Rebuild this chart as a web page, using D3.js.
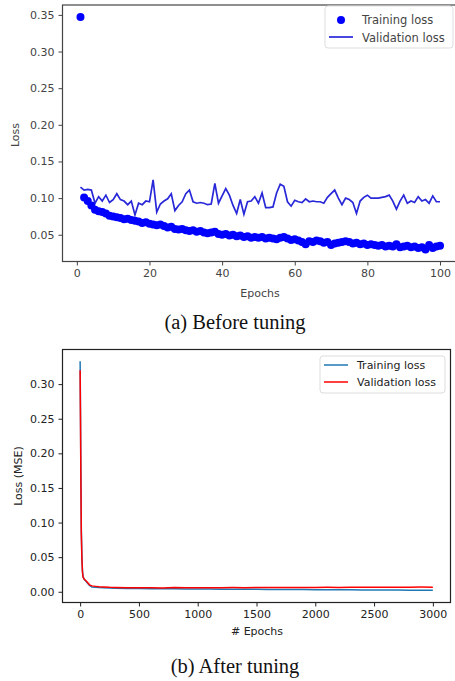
<!DOCTYPE html>
<html>
<head>
<meta charset="utf-8">
<script src="https://cdn.jsdelivr.net/npm/d3@7/dist/d3.min.js"></script>
<style>
  body { margin: 0; background: #fff; }
  svg { display: block; }
  .tick text { font-family: "DejaVu Sans", sans-serif; }
</style>
</head>
<body>
<div id="chart-area"></div>
<script>
// (a) before tuning: epochs 1..100
var trainA = [
  0.347, 0.101, 0.096, 0.090, 0.084, 0.082, 0.081, 0.079, 0.076, 0.075,
  0.074, 0.073, 0.071, 0.072, 0.070, 0.069, 0.068, 0.066, 0.067, 0.065,
  0.064, 0.063, 0.064, 0.062, 0.060, 0.061, 0.058, 0.057, 0.058, 0.056,
  0.055, 0.056, 0.054, 0.055, 0.053, 0.052, 0.053, 0.054, 0.051, 0.050,
  0.051, 0.049, 0.050, 0.048, 0.049, 0.047, 0.048, 0.046, 0.047, 0.046,
  0.047, 0.045, 0.046, 0.045, 0.044, 0.046, 0.047, 0.045, 0.043, 0.044,
  0.042, 0.040, 0.037, 0.041, 0.040, 0.042, 0.041, 0.039, 0.040, 0.036,
  0.038, 0.039, 0.040, 0.041, 0.040, 0.038, 0.039, 0.037, 0.038, 0.036,
  0.037, 0.036, 0.035, 0.036, 0.034, 0.035, 0.034, 0.037, 0.033, 0.034,
  0.035, 0.033, 0.034, 0.032, 0.033, 0.030, 0.036, 0.032, 0.034, 0.035
];
var valA = [
  0.115, 0.111, 0.112, 0.111, 0.093, 0.102, 0.096, 0.104, 0.094, 0.098,
  0.106, 0.098, 0.096, 0.091, 0.096, 0.077, 0.093, 0.091, 0.096, 0.095,
  0.125, 0.081, 0.092, 0.096, 0.099, 0.106, 0.083, 0.090, 0.095, 0.106,
  0.111, 0.095, 0.093, 0.094, 0.093, 0.091, 0.092, 0.120, 0.093, 0.103,
  0.113, 0.104, 0.090, 0.079, 0.098, 0.078, 0.095, 0.096, 0.102, 0.093,
  0.107, 0.087, 0.087, 0.088, 0.107, 0.119, 0.116, 0.095, 0.089, 0.097,
  0.095, 0.094, 0.099, 0.095, 0.096, 0.095, 0.095, 0.093, 0.101, 0.106,
  0.111, 0.100, 0.091, 0.100, 0.098, 0.094, 0.079, 0.096, 0.101, 0.104,
  0.100, 0.100, 0.100, 0.101, 0.102, 0.104, 0.096, 0.085, 0.096, 0.104,
  0.093, 0.096, 0.094, 0.102, 0.096, 0.098, 0.093, 0.103, 0.095, 0.095
];
var ticksAX = [0, 20, 40, 60, 80, 100];
var ticksAY = [0.05, 0.10, 0.15, 0.20, 0.25, 0.30, 0.35];

// (b) after tuning: sampled epochs and losses
var epochsB = [0, 3, 6, 10, 15, 20, 25, 35, 50, 65, 80, 100, 130, 160, 200, 250, 300, 400, 500, 600,
  700, 800, 900, 1000, 1100, 1200, 1300, 1400, 1500, 1600, 1700, 1800, 1900, 2000, 2100, 2200, 2300,
  2400, 2500, 2600, 2700, 2800, 2900, 3000];
var trainB = [0.333, 0.26, 0.18, 0.09, 0.05, 0.030, 0.022, 0.018, 0.015, 0.012, 0.009, 0.007, 0.0064, 0.006, 0.0057, 0.0054, 0.0052, 0.0049, 0.0047, 0.0045,
  0.0044, 0.0043, 0.0041, 0.0040, 0.0039, 0.0038, 0.0037, 0.0036, 0.0035, 0.0034, 0.0033, 0.0033, 0.0032, 0.0031, 0.0030, 0.0029, 0.0028,
  0.0027, 0.0026, 0.0025, 0.0024, 0.0023, 0.0022, 0.0021];
var valB = [0.320, 0.25, 0.17, 0.085, 0.048, 0.028, 0.021, 0.018, 0.016, 0.013, 0.010, 0.0085, 0.0078, 0.0072, 0.0068, 0.0064, 0.0062, 0.0059, 0.0057, 0.0058,
  0.0056, 0.0061, 0.0057, 0.0058, 0.0059, 0.0058, 0.0060, 0.0059, 0.0061, 0.0060, 0.0062, 0.0061, 0.0063, 0.0062, 0.0064, 0.0063, 0.0065,
  0.0064, 0.0066, 0.0065, 0.0067, 0.0066, 0.0068, 0.0067];
var ticksBX = [0, 500, 1000, 1500, 2000, 2500, 3000];
var ticksBY = [0.00, 0.05, 0.10, 0.15, 0.20, 0.25, 0.30];

var width = 455;
var height = 681;

var svg = d3.select("#chart-area")
  .append("svg")
  .attr("width", width)
  .attr("height", height);

function drawAxes(g, x, y, tx, ty, xfmt, color) {
  var xAxis = d3.axisBottom(x).tickValues(tx).tickFormat(xfmt).tickSize(4).tickPadding(4).tickSizeOuter(0);
  var yAxis = d3.axisLeft(y).tickValues(ty).tickFormat(d3.format(".2f")).tickSize(4).tickPadding(4).tickSizeOuter(0);

  var xg = g.append("g")
    .attr("transform", "translate(0," + y.range()[0] + ")")
    .call(xAxis);
  var yg = g.append("g")
    .attr("transform", "translate(" + x.range()[0] + ",0)")
    .call(yAxis);

  [xg, yg].forEach(function(a) {
    a.select(".domain").remove();
    a.selectAll(".tick line").attr("stroke", color);
    a.selectAll(".tick text").attr("fill", color).style("font-size", "11px");
  });

  g.append("rect")
    .attr("x", x.range()[0])
    .attr("y", y.range()[1])
    .attr("width", x.range()[1] - x.range()[0])
    .attr("height", y.range()[0] - y.range()[1])
    .attr("fill", "none")
    .attr("stroke", color)
    .attr("stroke-width", 1.2);
}

// ----- chart (a)
var xA = d3.scaleLinear().domain([-3.95, 104.95]).range([62.5, 458]);
var yA = d3.scaleLinear().domain([0.0135, 0.3635]).range([261.5, 5]);
var gA = svg.append("g");

var epochsA = d3.range(1, trainA.length + 1);

gA.append("path")
  .datum(valA)
  .attr("fill", "none")
  .attr("stroke", "#2828d8")
  .attr("stroke-width", 1.7)
  .attr("d", d3.line().x(function(d, i) { return xA(epochsA[i]); }).y(function(d) { return yA(d); }));

gA.selectAll(".pt")
  .data(trainA)
  .enter()
  .append("circle")
  .attr("class", "pt")
  .attr("cx", function(d, i) { return xA(epochsA[i]); })
  .attr("cy", function(d) { return yA(d); })
  .attr("r", 4)
  .attr("fill", "#0000ff");

drawAxes(gA, xA, yA, ticksAX, ticksAY, d3.format("d"), "#444");

// legend (a)
var legA = gA.append("g");
legA.append("rect").attr("x", 325).attr("y", 6).attr("width", 128).attr("height", 42)
  .attr("rx", 3).attr("fill", "#fff").attr("stroke", "#ddd");
legA.append("circle").attr("cx", 341).attr("cy", 20).attr("r", 4).attr("fill", "#0000ff");
legA.append("line").attr("x1", 329).attr("x2", 353).attr("y1", 37).attr("y2", 37)
  .attr("stroke", "#2828d8").attr("stroke-width", 1.7);
legA.append("text").attr("x", 362).attr("y", 24).text("Training loss")
  .attr("font-family", "DejaVu Sans").attr("font-size", "11.5px").attr("fill", "#444");
legA.append("text").attr("x", 362).attr("y", 42).text("Validation loss")
  .attr("font-family", "DejaVu Sans").attr("font-size", "11.5px").attr("fill", "#444");

gA.append("text")
  .attr("transform", "translate(19,135) rotate(-90)")
  .attr("text-anchor", "middle")
  .attr("font-family", "DejaVu Sans").attr("font-size", "11px").attr("fill", "#444")
  .text("Loss");
gA.append("text")
  .attr("x", 260).attr("y", 297)
  .attr("text-anchor", "middle")
  .attr("font-family", "DejaVu Sans").attr("font-size", "11px").attr("fill", "#444")
  .text("Epochs");

svg.append("text")
  .attr("x", 235).attr("y", 329)
  .attr("text-anchor", "middle")
  .attr("font-family", "Liberation Serif, serif").attr("font-size", "20.5px").attr("fill", "#111")
  .text("(a) Before tuning");

// ----- chart (b)
var xB = d3.scaleLinear().domain([-150, 3150]).range([62.5, 450.5]);
var yB = d3.scaleLinear().domain([-0.0155, 0.35]).range([602.5, 349.5]);
var gB = svg.append("g");

var lineB = d3.line().x(function(d, i) { return xB(epochsB[i]); }).y(function(d) { return yB(d); });

gB.append("path")
  .datum(trainB)
  .attr("fill", "none")
  .attr("stroke", "#1f77b4")
  .attr("stroke-width", 1.5)
  .attr("d", lineB);

gB.append("path")
  .datum(valB)
  .attr("fill", "none")
  .attr("stroke", "#ff0000")
  .attr("stroke-width", 1.5)
  .attr("d", lineB);

drawAxes(gB, xB, yB, ticksBX, ticksBY, d3.format("d"), "#222");

var legB = gB.append("g");
legB.append("rect").attr("x", 320).attr("y", 356).attr("width", 125).attr("height", 37)
  .attr("rx", 3).attr("fill", "#fff").attr("stroke", "#ddd");
legB.append("line").attr("x1", 324).attr("x2", 348).attr("y1", 365).attr("y2", 365)
  .attr("stroke", "#1f77b4").attr("stroke-width", 1.5);
legB.append("line").attr("x1", 324).attr("x2", 348).attr("y1", 382).attr("y2", 382)
  .attr("stroke", "#ff0000").attr("stroke-width", 1.5);
legB.append("text").attr("x", 357).attr("y", 369).text("Training loss")
  .attr("font-family", "DejaVu Sans").attr("font-size", "11px").attr("fill", "#222");
legB.append("text").attr("x", 357).attr("y", 386).text("Validation loss")
  .attr("font-family", "DejaVu Sans").attr("font-size", "11px").attr("fill", "#222");

gB.append("text")
  .attr("transform", "translate(22,476) rotate(-90)")
  .attr("text-anchor", "middle")
  .attr("font-family", "DejaVu Sans").attr("font-size", "11px").attr("fill", "#222")
  .text("Loss (MSE)");
gB.append("text")
  .attr("x", 257).attr("y", 635)
  .attr("text-anchor", "middle")
  .attr("font-family", "DejaVu Sans").attr("font-size", "11px").attr("fill", "#222")
  .text("# Epochs");

svg.append("text")
  .attr("x", 235).attr("y", 673)
  .attr("text-anchor", "middle")
  .attr("font-family", "Liberation Serif, serif").attr("font-size", "20.5px").attr("fill", "#111")
  .text("(b) After tuning");
</script>
</body>
</html>
